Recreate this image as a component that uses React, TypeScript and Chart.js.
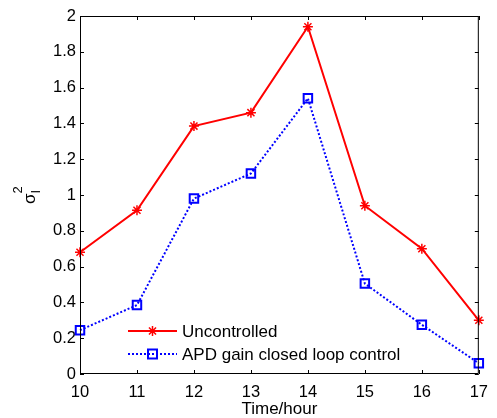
import React, { useEffect, useRef } from "react";
import { Chart, registerables } from "chart.js";

Chart.register(...registerables);

const hours = [10, 11, 12, 13, 14, 15, 16, 17];
const uncontrolled = [0.68, 0.915, 1.385, 1.46, 1.94, 0.94, 0.70, 0.30];
const apdControl = [0.245, 0.385, 0.98, 1.12, 1.54, 0.505, 0.275, 0.06];
const seriesNames = ["Uncontrolled", "APD gain closed loop control"];
const xTitle = "Time/hour";

const FONT = "Liberation Sans, Arial, Helvetica, sans-serif";
const RED = "#ff0000";
const BLUE = "#0000ff";

function drawStar(ctx: CanvasRenderingContext2D, x: number, y: number, r: number) {
  ctx.save();
  ctx.strokeStyle = RED;
  ctx.lineWidth = 1.5;
  ctx.beginPath();
  for (let i = 0; i < 4; i++) {
    const a = (i * Math.PI) / 4;
    ctx.moveTo(x - Math.cos(a) * r, y - Math.sin(a) * r);
    ctx.lineTo(x + Math.cos(a) * r, y + Math.sin(a) * r);
  }
  ctx.stroke();
  ctx.restore();
}

const boxPlugin = {
  id: "matlabBox",
  afterDatasetsDraw(chart: any) {
    const { ctx, chartArea, scales } = chart;
    const { left, right, top, bottom } = chartArea;
    ctx.save();
    ctx.strokeStyle = "#000";
    ctx.lineWidth = 1;
    ctx.beginPath();
    ctx.rect(left + 0.5, top + 0.5, right - left - 1, bottom - top - 1);
    ctx.stroke();
    const tl = 4;
    ctx.beginPath();
    scales.x.ticks.forEach((t: any) => {
      const px = Math.round(scales.x.getPixelForValue(t.value)) + 0.5;
      ctx.moveTo(px, bottom);
      ctx.lineTo(px, bottom - tl);
      ctx.moveTo(px, top);
      ctx.lineTo(px, top + tl);
    });
    scales.y.ticks.forEach((t: any) => {
      const py = Math.round(scales.y.getPixelForValue(t.value)) + 0.5;
      ctx.moveTo(left, py);
      ctx.lineTo(left + tl, py);
      ctx.moveTo(right, py);
      ctx.lineTo(right - tl, py);
    });
    ctx.stroke();

    // legend
    const lx0 = left + 48;
    const lx1 = left + 97;
    const lxm = (lx0 + lx1) / 2;
    const ly1 = bottom - 43;
    const ly2 = bottom - 20;
    ctx.lineWidth = 2;
    ctx.strokeStyle = RED;
    ctx.beginPath();
    ctx.moveTo(lx0, ly1);
    ctx.lineTo(lx1, ly1);
    ctx.stroke();
    drawStar(ctx, lxm, ly1, 5);
    ctx.strokeStyle = BLUE;
    ctx.setLineDash([2, 2]);
    ctx.beginPath();
    ctx.moveTo(lx0, ly2);
    ctx.lineTo(lx1, ly2);
    ctx.stroke();
    ctx.setLineDash([]);
    ctx.strokeRect(lxm - 4.5, ly2 - 4.5, 9, 9);
    ctx.fillStyle = "#000";
    ctx.font = `17px ${FONT}`;
    ctx.textAlign = "left";
    ctx.textBaseline = "middle";
    ctx.fillText(seriesNames[0], lx1 + 5, ly1 + 1);
    ctx.fillText(seriesNames[1], lx1 + 5, ly2 + 1);

    // y label sigma^2_I
    ctx.translate(35, 204);
    ctx.rotate(-Math.PI / 2);
    ctx.textAlign = "left";
    ctx.textBaseline = "alphabetic";
    ctx.font = `17px ${FONT}`;
    ctx.fillText("\u03c3", 0, 0);
    const w = ctx.measureText("\u03c3").width;
    ctx.font = `13px ${FONT}`;
    ctx.fillText("2", w, -13);
    ctx.fillText("I", w, 5);
    ctx.restore();
  },
};

export default function App() {
  const ref = useRef<HTMLCanvasElement | null>(null);
  useEffect(() => {
    if (!ref.current) return;
    const chart = new Chart(ref.current, {
      type: "line",
      data: {
        datasets: [
          {
            label: seriesNames[0],
            data: hours.map((h, i) => ({ x: h, y: uncontrolled[i] })),
            borderColor: RED,
            backgroundColor: RED,
            borderWidth: 2,
            pointStyle: "star",
            pointRadius: 5,
            pointBorderWidth: 1.5,
            pointBorderColor: RED,
            clip: false as any,
          },
          {
            label: seriesNames[1],
            data: hours.map((h, i) => ({ x: h, y: apdControl[i] })),
            borderColor: BLUE,
            backgroundColor: "rgba(0,0,0,0)",
            borderWidth: 2,
            borderDash: [2, 2],
            pointStyle: "rect",
            pointRadius: 6,
            pointBorderWidth: 2,
            pointBorderColor: BLUE,
            clip: false as any,
          },
        ],
      },
      options: {
        animation: false,
        responsive: false,
        devicePixelRatio: 1,
        layout: { padding: { left: 0, top: 16, right: 11, bottom: 0 } },
        plugins: { legend: { display: false }, tooltip: { enabled: false } },
        elements: { line: { tension: 0 } },
        scales: {
          x: {
            type: "linear",
            min: 10,
            max: 17,
            grid: { display: false, drawTicks: false },
            border: { display: false },
            ticks: {
              stepSize: 1,
              color: "#000",
              padding: 9,
              font: { family: FONT, size: 16.5 },
              maxRotation: 0,
            },
            title: {
              display: true,
              text: xTitle,
              color: "#000",
              font: { family: FONT, size: 17 },
              padding: { top: 0, bottom: -2 },
            },
            afterFit: (s: any) => {
              s.height = 44;
            },
          },
          y: {
            min: 0,
            max: 2,
            grid: { display: false, drawTicks: false },
            border: { display: false },
            ticks: {
              stepSize: 0.2,
              color: "#000",
              padding: 4,
              font: { family: FONT, size: 16.5 },
              callback: (v: any) => String(Number(Number(v).toFixed(1))),
            },
            afterFit: (s: any) => {
              s.width = 80;
            },
          },
        },
      },
      plugins: [boxPlugin],
    });
    return () => chart.destroy();
  }, []);
  return (
    <div style={{ position: "absolute", left: 0, top: 0, width: 497, height: 418, background: "#fff" }}>
      <canvas ref={ref} width={497} height={418} />
    </div>
  );
}
